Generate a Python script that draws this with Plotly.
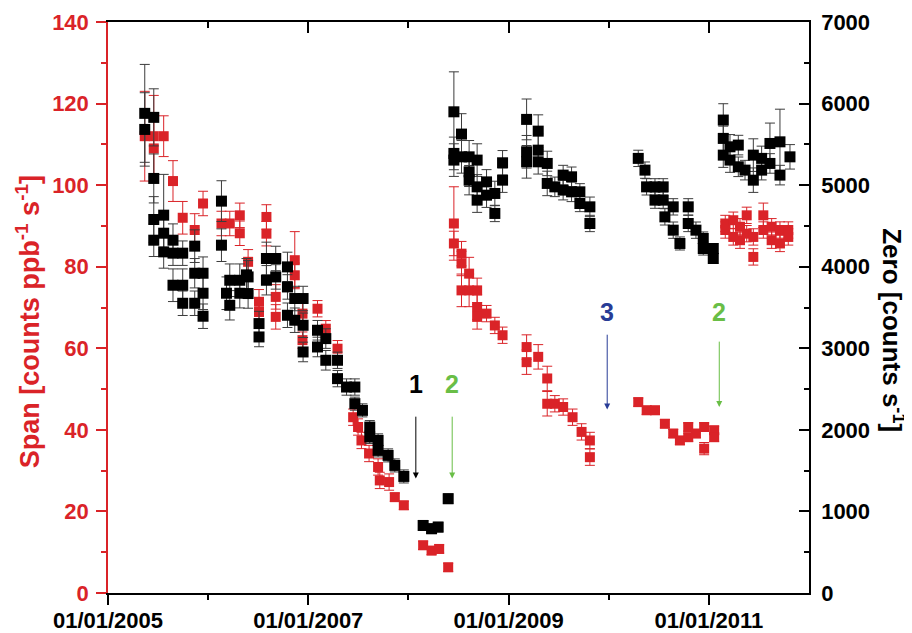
import plotly.graph_objects as go

# ---------------- data (decimal years) ----------------
zero_x = [2005.367, 2005.367, 2005.457, 2005.457, 2005.457, 2005.457, 2005.556, 2005.556, 2005.556,
          2005.649, 2005.649, 2005.746, 2005.649, 2005.746, 2005.746, 2005.866, 2005.866, 2005.866,
          2005.949, 2005.949, 2005.949, 2006.133, 2006.133, 2006.183, 2006.216, 2006.216, 2006.316,
          2006.316, 2006.383, 2006.399, 2006.399, 2006.508, 2006.508, 2006.582, 2006.582, 2006.675,
          2006.675, 2006.792, 2006.792, 2006.792, 2006.865, 2006.865, 2006.948, 2006.948, 2006.948,
          2007.092, 2007.092, 2007.175, 2007.175, 2007.292, 2007.292, 2007.382, 2007.465, 2007.465,
          2007.541, 2007.614, 2007.614, 2007.697, 2007.697, 2007.797, 2007.864, 2007.954,
          2008.147, 2008.231, 2008.297, 2008.397,
          2008.454, 2008.454, 2008.454, 2008.530, 2008.530, 2008.606, 2008.606, 2008.606, 2008.686,
          2008.686, 2008.686, 2008.780, 2008.780, 2008.863, 2008.863, 2008.940, 2008.940,
          2009.180, 2009.180, 2009.180, 2009.296, 2009.296, 2009.296, 2009.386, 2009.386, 2009.462,
          2009.545, 2009.545, 2009.629, 2009.629, 2009.712, 2009.712, 2009.812, 2009.812,
          2010.295, 2010.362, 2010.378, 2010.462, 2010.462, 2010.544, 2010.544, 2010.561, 2010.644,
          2010.644, 2010.711, 2010.794, 2010.794, 2010.871, 2010.944, 2010.944, 2011.044, 2011.044,
          2011.144, 2011.144, 2011.144, 2011.211, 2011.211, 2011.294, 2011.294, 2011.361, 2011.444,
          2011.444, 2011.527, 2011.527, 2011.610, 2011.610, 2011.710, 2011.710, 2011.810]
zero_y = [5880, 5683, 5831, 5082, 4579, 4325, 4632, 4411, 4182,
          4325, 4166, 4166, 3773, 3773, 3552, 4252, 3920, 3552,
          3920, 3675, 3393, 4804, 4264, 3675, 3834, 3527, 3834,
          3675, 3900, 3875, 3671, 3303, 3139, 4101, 3834, 4101,
          3875, 3998, 3752, 3405, 3610, 3344, 3610, 3282, 2955,
          3221, 3016, 3119, 2853, 2853, 2628, 2525, 2525, 2321,
          2239, 2034, 1912, 1871, 1748, 1687, 1564, 1429,
          828, 788, 808, 1156,
          5899, 5389, 5307, 5626, 5347, 5347, 5163, 5061, 5307,
          4979, 4816, 5040, 4877, 4898, 4653, 5274, 5061,
          5806, 5409, 5286, 5662, 5429, 5286, 5266, 5021, 4979,
          5123, 4939, 5102, 4918, 4918, 4775, 4734, 4530,
          5328, 5184, 4979, 4979, 4816, 4979, 4816, 4611, 4734,
          4448, 4285, 4734, 4530, 4448, 4346, 4223, 4223, 4101,
          5798, 5573, 5368, 5470, 5307, 5491, 5225, 5184, 5368,
          5061, 5328, 5184, 5511, 5266, 5531, 5123, 5347]
zero_err = [600, 450, 350, 300, 280, 200, 500, 200, 200,
            200, 150, 150, 200, 200, 150, 200, 180, 150,
            200, 200, 150, 250, 200, 200, 200, 180, 200,
            180, 200, 200, 180, 150, 120, 200, 180, 150,
            150, 180, 150, 150, 150, 150, 150, 150, 120,
            120, 120, 120, 120, 100, 100, 100, 100, 80,
            80, 80, 80, 80, 80, 80, 80, 80,
            60, 60, 60, 60,
            490, 200, 200, 250, 200, 200, 180, 180, 200,
            150, 150, 150, 150, 150, 100, 150, 150,
            250, 200, 200, 200, 200, 150, 150, 150, 120,
            120, 120, 120, 120, 100, 100, 120, 100,
            100, 100, 100, 100, 100, 100, 100, 100, 100,
            100, 80, 100, 100, 100, 80, 80, 60, 60,
            200, 150, 150, 150, 150, 120, 120, 120, 200,
            150, 150, 120, 250, 120, 400, 120, 150]

span_x = [2005.367, 2005.457, 2005.457, 2005.556, 2005.649, 2005.746, 2005.866, 2005.949,
          2006.133, 2006.216, 2006.316, 2006.316, 2006.399, 2006.508, 2006.508, 2006.582, 2006.582,
          2006.675, 2006.675, 2006.865, 2006.865, 2006.942, 2006.942, 2007.092, 2007.175, 2007.292,
          2007.448, 2007.497, 2007.531, 2007.607, 2007.697, 2007.714, 2007.807, 2007.864, 2007.954,
          2008.147, 2008.231, 2008.307, 2008.397,
          2008.454, 2008.454, 2008.530, 2008.530, 2008.606, 2008.530, 2008.606, 2008.686, 2008.686,
          2008.686, 2008.780, 2008.863, 2008.940,
          2009.180, 2009.180, 2009.296, 2009.386, 2009.386, 2009.462, 2009.545, 2009.639, 2009.729,
          2009.812, 2009.812,
          2010.295, 2010.379, 2010.462, 2010.561, 2010.644, 2010.711, 2010.794, 2010.794, 2010.871,
          2010.953, 2010.953, 2011.053, 2011.053,
          2011.164, 2011.164, 2011.244, 2011.244, 2011.311, 2011.311, 2011.378, 2011.378, 2011.444,
          2011.444, 2011.544, 2011.544, 2011.627, 2011.627, 2011.710, 2011.710, 2011.793, 2011.793]
span_y = [112.0, 112.0, 109.0, 112.0, 101.0, 92.0, 89.0, 95.5,
          90.6, 90.6, 92.6, 88.2, 81.2, 71.4, 68.9, 92.2, 88.1,
          72.6, 67.7, 81.6, 77.9, 68.5, 62.0, 69.7, 64.8, 59.9,
          43.1, 40.7, 37.4, 34.2, 30.9, 27.6, 27.2, 23.5, 21.5,
          11.7, 10.4, 10.8, 6.3,
          90.6, 85.7, 83.2, 80.8, 78.3, 74.2, 74.2, 74.2, 70.1,
          67.7, 68.5, 65.6, 63.2,
          60.3, 56.6, 57.9, 52.6, 46.4, 46.4, 45.6, 43.1, 39.5,
          37.4, 33.3,
          46.8, 44.8, 44.8, 41.5, 39.1, 37.4, 40.7, 38.2, 39.1,
          40.7, 35.4, 39.9, 38.2,
          90.6, 89.0, 91.4, 87.3, 89.8, 86.5, 92.6, 88.1, 82.4,
          87.3, 92.6, 89.0, 89.8, 86.5, 89.0, 85.7, 87.3, 89.0]
span_err = [11, 10, 8, 5, 5, 4, 4, 3,
            3, 3, 3, 3, 3, 3, 3, 3, 3,
            3, 3, 7, 3, 3, 2, 2, 2, 2,
            2, 2, 2, 2, 2, 2, 2, 1, 1,
            1, 1, 1, 1,
            9, 3, 3, 3, 4, 4, 4, 3, 3,
            3, 2, 2, 2,
            3, 3, 3, 3, 3, 2, 2, 2, 2,
            2, 2,
            1, 1, 1, 1, 1, 1, 1, 1, 1,
            1, 1.5, 1, 1,
            2, 2, 2, 2, 2, 2, 2, 2, 2,
            2, 3, 2, 2, 2, 2, 2, 2, 2]

x_tick_vals = [2005, 2007, 2009, 2011]
x_tick_text = ["01/01/2005", "01/01/2007", "01/01/2009", "01/01/2011"]
x_minor_vals = [2006, 2008, 2010]

event_labels = ["1", "2", "3", "2"]
event_x = [2008.074, 2008.437, 2009.985, 2011.104]
event_head = [28.1, 28.1, 45.0, 45.6]
event_tail = [43.6, 43.6, 63.7, 62.0]
event_text_y = [51.3, 51.3, 68.8, 68.8]

RED = "rgb(218,35,40)"
GREEN = "rgb(105,190,70)"
BLUE = "rgb(40,60,150)"
event_colors = ["black", GREEN, BLUE, GREEN]

FONT = "Liberation Sans, Arial, sans-serif"

fig = go.Figure()
fig.add_trace(go.Scatter(
    x=span_x, y=span_y, mode="markers",
    marker=dict(symbol="square", size=10, color=RED, line=dict(width=0)),
    error_y=dict(type="data", array=span_err, color=RED, thickness=1, width=5),
    xaxis="x", yaxis="y", showlegend=False))
fig.add_trace(go.Scatter(
    x=zero_x, y=zero_y, mode="markers",
    marker=dict(symbol="square", size=11, color="black", line=dict(width=0)),
    error_y=dict(type="data", array=zero_err, color="rgb(60,60,60)", thickness=1, width=5),
    xaxis="x", yaxis="y2", showlegend=False))
# empty trace so the top (mirror) axis exists
fig.add_trace(go.Scatter(x=[], y=[], xaxis="x2", yaxis="y", showlegend=False))

tickfont = dict(family=FONT, size=22, color="black", weight="bold")

fig.update_layout(
    width=904, height=625,
    margin=dict(l=100, r=103, t=14, b=40, autoexpand=False),
    paper_bgcolor="white", plot_bgcolor="white",
    xaxis=dict(range=[2005, 2012], tickvals=x_tick_vals, ticktext=x_tick_text, automargin=False,
               ticks="outside", ticklen=10, tickwidth=1.5, tickcolor="black",
               minor=dict(tickvals=x_minor_vals, ticks="outside", ticklen=5, tickwidth=1.5, tickcolor="black"),
               showline=True, linecolor="black", linewidth=1.5, showgrid=False, zeroline=False,
               tickfont=tickfont, ticklabelstandoff=-3),
    xaxis2=dict(range=[2005, 2012], overlaying="x", side="top", anchor="y", automargin=False,
                tickvals=x_tick_vals, showticklabels=False,
                ticks="inside", ticklen=11, tickwidth=1.5, tickcolor="black",
                minor=dict(tickvals=x_minor_vals, ticks="inside", ticklen=6, tickwidth=1.5, tickcolor="black"),
                showline=True, linecolor="black", linewidth=1.5, showgrid=False, zeroline=False),
    yaxis=dict(range=[0, 140], dtick=20, tick0=0, automargin=False,
               ticks="outside", ticklen=10, tickwidth=1.5, tickcolor=RED,
               minor=dict(dtick=10, ticks="outside", ticklen=5, tickwidth=1.5, tickcolor=RED),
               showline=True, linecolor=RED, linewidth=1.5, showgrid=False, zeroline=False,
               tickfont=dict(family=FONT, size=22, color=RED, weight="bold"), ticklabelstandoff=3),
    yaxis2=dict(range=[0, 7000], dtick=1000, tick0=0, overlaying="y", side="right", anchor="x",
                automargin=False,
                ticks="inside", ticklen=10, tickwidth=1.5, tickcolor="black",
                minor=dict(dtick=500, ticks="inside", ticklen=5, tickwidth=1.5, tickcolor="black"),
                showline=True, linecolor="black", linewidth=1.5, showgrid=False, zeroline=False,
                tickfont=tickfont, ticklabelstandoff=6),
)

annotations = [
    dict(text="Span [counts ppb<sup>-1</sup> s<sup>-1</sup>]", textangle=-90,
         xref="paper", yref="paper", x=-0.115, y=0.475, xanchor="center", yanchor="middle",
         showarrow=False, font=dict(family=FONT, size=27, color=RED, weight="bold")),
    dict(text="Zero [counts s<sup>-1</sup>]", textangle=90,
         xref="paper", yref="paper", x=1.12, y=0.46, xanchor="center", yanchor="middle",
         showarrow=False, font=dict(family=FONT, size=26, color="black", weight="bold")),
]
for lab, ex, eh, et, ety, col in zip(event_labels, event_x, event_head, event_tail, event_text_y, event_colors):
    annotations.append(dict(text="", x=ex, y=eh, ax=ex, ay=et, xref="x", yref="y", axref="x", ayref="y",
                            showarrow=True, arrowhead=2, arrowsize=1.2, arrowwidth=1, arrowcolor=col))
    annotations.append(dict(text=lab, x=ex, y=ety, xref="x", yref="y", showarrow=False,
                            xanchor="center", yanchor="middle",
                            font=dict(family=FONT, size=25, color=col, weight="bold")))
fig.update_layout(annotations=annotations)

fig.write_html("out.html")
